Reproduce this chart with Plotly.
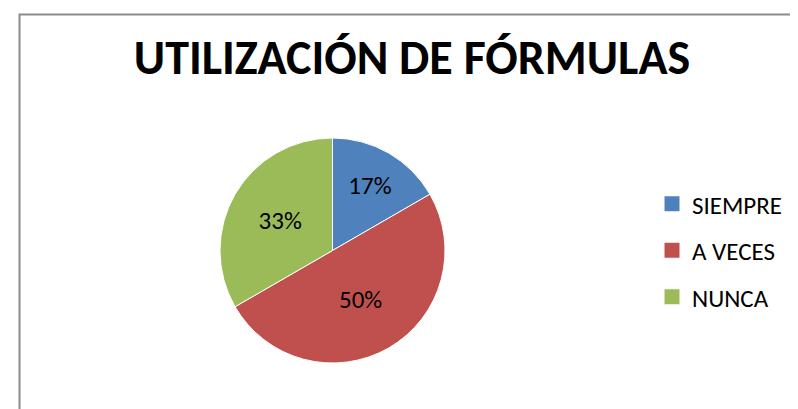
import plotly.graph_objects as go

categories = ['SIEMPRE', 'A VECES', 'NUNCA']
values = [1, 3, 2]
colors = ['#4F81BD', '#C0504D', '#9BBB59']

FONT = 'Calibri, Carlito, Lato, sans-serif'

fig = go.Figure()

fig.add_trace(go.Pie(
    labels=categories,
    values=values,
    sort=False,
    direction='clockwise',
    rotation=0,
    marker=dict(colors=colors, line=dict(color='white', width=1)),
    texttemplate='%{percent:.0%}',
    textposition='inside',
    insidetextorientation='horizontal',
    textfont=dict(family=FONT, size=25, color='black'),
    showlegend=False,
    hoverinfo='label+percent',
    domain=dict(x=[212 / 798, 437 / 798], y=[54 / 409, 279 / 409]),
))

# legend entries (separate traces so the spacing can be set)
for name, color in zip(categories, colors):
    fig.add_trace(go.Scatter(
        x=[None], y=[None],
        mode='markers',
        marker=dict(symbol='square', size=15, color=color),
        name=name,
        legendgroup=name,
    ))

fig.update_layout(
    width=798,
    height=409,
    margin=dict(l=0, r=0, t=0, b=0),
    paper_bgcolor='white',
    plot_bgcolor='white',
    title=dict(
        text='<b>UTILIZACIÓN DE FÓRMULAS</b>',
        x=404 / 798, xanchor='center',
        y=1 - 49 / 409, yanchor='middle',
        font=dict(family=FONT, size=48, color='black'),
    ),
    xaxis=dict(visible=False),
    yaxis=dict(visible=False),
    legend=dict(
        x=644 / 798, xanchor='left',
        y=1 - 173 / 409, yanchor='top',
        font=dict(family=FONT, size=25, color='black'),
        tracegroupgap=11,
        itemwidth=30,
        itemsizing='trace',
        bgcolor='rgba(0,0,0,0)',
    ),
    shapes=[dict(
        type='rect', xref='paper', yref='paper',
        x0=11.5 / 798, x1=1.05, y0=-0.05, y1=1 - 6.5 / 409,
        line=dict(color='#8C8C8C', width=2),
        fillcolor='rgba(0,0,0,0)',
    )],
)

fig.write_html('out.html')
